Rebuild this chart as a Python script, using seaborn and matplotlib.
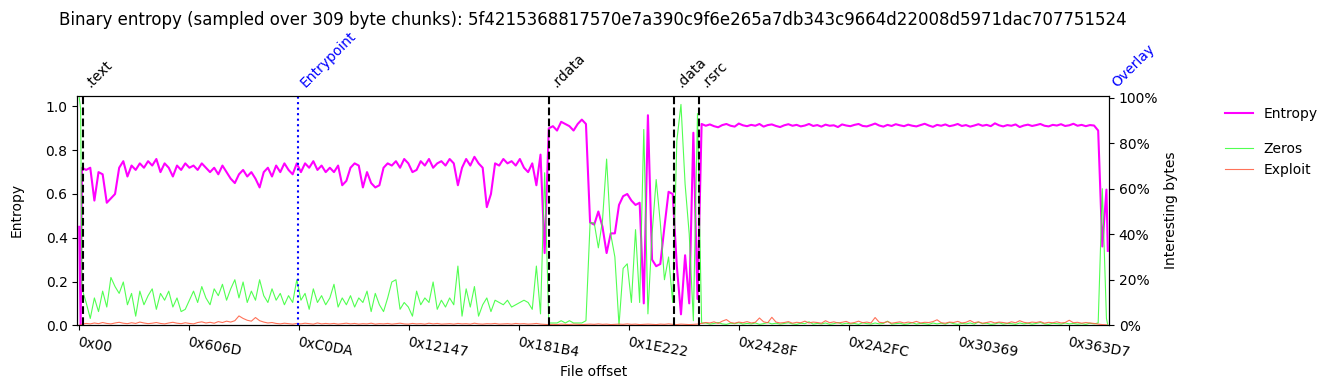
import matplotlib
matplotlib.use("Agg")
import matplotlib.pyplot as plt
import matplotlib.transforms as mtransforms
from matplotlib.lines import Line2D
from matplotlib.ticker import PercentFormatter
import numpy as np
import seaborn as sns

CHUNK = 309
TITLE = ("Binary entropy (sampled over 309 byte chunks): "
         "5f4215368817570e7a390c9f6e265a7db343c9664d22008d5971dac707751524")

# chunk indices of the samples
chunk_idx = [0, 1] + list(range(2, 747, 3)) + [747]

entropy = [
    0.45, 0.0,
    0.72, 0.71, 0.72, 0.57, 0.70, 0.69, 0.56, 0.58, 0.60, 0.72,
    0.75, 0.68, 0.73, 0.71, 0.74, 0.72, 0.75, 0.73, 0.76, 0.70,
    0.74, 0.72, 0.68, 0.73, 0.71, 0.74, 0.72, 0.73, 0.71, 0.74,
    0.72, 0.70, 0.72, 0.69, 0.73, 0.70, 0.67, 0.65, 0.69, 0.71,
    0.68, 0.70, 0.67, 0.63, 0.70, 0.72, 0.68, 0.73, 0.70, 0.74,
    0.71, 0.69, 0.74, 0.70, 0.74, 0.72, 0.75, 0.71, 0.73, 0.70,
    0.72, 0.70, 0.73, 0.64, 0.66, 0.72, 0.74, 0.73, 0.63, 0.70,
    0.65, 0.63, 0.64, 0.72, 0.74, 0.73, 0.75, 0.72, 0.76, 0.74,
    0.70, 0.71, 0.75, 0.73, 0.76, 0.72, 0.74, 0.75, 0.73, 0.76,
    0.74, 0.64, 0.72, 0.76, 0.73, 0.77, 0.74, 0.72, 0.54, 0.60,
    0.74, 0.73, 0.76, 0.74, 0.75, 0.73, 0.76, 0.72, 0.70, 0.74,
    0.64, 0.78, 0.33, 0.90,
    0.91, 0.89, 0.93, 0.92, 0.91, 0.89, 0.92, 0.94, 0.92, 0.47,
    0.46, 0.52, 0.45, 0.33, 0.42, 0.42, 0.55, 0.59, 0.60, 0.57,
    0.55, 0.56, 0.10, 0.96, 0.30, 0.27, 0.28, 0.45, 0.61, 0.60,
    0.27, 0.05, 0.32, 0.10, 0.88, 0.12, 0.92,
    0.912, 0.918, 0.910, 0.905, 0.915, 0.920, 0.912, 0.908, 0.922, 0.914,
    0.910, 0.916, 0.912, 0.920, 0.908, 0.915, 0.918, 0.911, 0.906, 0.914,
    0.919, 0.912, 0.916, 0.909, 0.913, 0.920, 0.911, 0.915, 0.908, 0.917,
    0.912, 0.914, 0.906, 0.918, 0.913, 0.910, 0.916, 0.920, 0.911, 0.909,
    0.915, 0.922, 0.913, 0.908, 0.916, 0.911, 0.919, 0.914, 0.910, 0.917,
    0.912, 0.909, 0.915, 0.921, 0.913, 0.907, 0.916, 0.912, 0.918, 0.910,
    0.914, 0.920, 0.911, 0.915, 0.908, 0.913, 0.919, 0.912, 0.916, 0.910,
    0.923, 0.914, 0.909, 0.915, 0.912, 0.918, 0.906, 0.913, 0.917, 0.911,
    0.915, 0.920, 0.912, 0.909, 0.916, 0.913, 0.919, 0.911, 0.914, 0.921,
    0.912, 0.916, 0.910, 0.915, 0.913,
    0.89, 0.36, 0.62, 0.34,
]

zeros = [
    1.0, 0.95,
    0.16, 0.10, 0.03, 0.12, 0.06, 0.15, 0.08, 0.21, 0.17, 0.14,
    0.19, 0.09, 0.14, 0.04, 0.15, 0.09, 0.13, 0.16, 0.07, 0.14,
    0.11, 0.15, 0.08, 0.12, 0.06, 0.07, 0.11, 0.15, 0.10, 0.17,
    0.12, 0.09, 0.16, 0.13, 0.18, 0.11, 0.16, 0.20, 0.12, 0.19,
    0.10, 0.15, 0.11, 0.20, 0.13, 0.10, 0.16, 0.11, 0.14, 0.09,
    0.13, 0.10, 0.20, 0.11, 0.14, 0.07, 0.16, 0.10, 0.13, 0.09,
    0.12, 0.18, 0.08, 0.12, 0.09, 0.13, 0.08, 0.12, 0.10, 0.15,
    0.06, 0.14, 0.09, 0.06, 0.12, 0.19, 0.20, 0.07, 0.10, 0.08,
    0.04, 0.15, 0.09, 0.12, 0.10, 0.19, 0.07, 0.11, 0.08, 0.12,
    0.09, 0.26, 0.04, 0.16, 0.08, 0.17, 0.04, 0.09, 0.12, 0.06,
    0.11, 0.10, 0.09, 0.11, 0.08, 0.09, 0.10, 0.11, 0.10, 0.07,
    0.26, 0.05, 0.67, 0.01,
    0.01, 0.01, 0.02, 0.01, 0.02, 0.01, 0.01, 0.01, 0.02, 0.45,
    0.45, 0.34, 0.46, 0.73, 0.40, 0.30, 0.00, 0.25, 0.27, 0.10,
    0.42, 0.10, 0.86, 0.05, 0.40, 0.64, 0.45, 0.20, 0.30, 0.10,
    0.81, 0.97, 0.62, 0.40, 0.02, 0.93, 0.01,
    0.010, 0.005, 0.008, 0.012, 0.006, 0.004, 0.009, 0.007, 0.011, 0.005,
    0.008, 0.006, 0.010, 0.004, 0.007, 0.012, 0.006, 0.009, 0.005, 0.008,
    0.011, 0.006, 0.004, 0.009, 0.007, 0.015, 0.005, 0.008, 0.006, 0.010,
    0.004, 0.007, 0.012, 0.005, 0.009, 0.006, 0.008, 0.004, 0.011, 0.007,
    0.005, 0.010, 0.006, 0.008, 0.018, 0.005, 0.007, 0.009, 0.004, 0.006,
    0.011, 0.005, 0.008, 0.007, 0.004, 0.010, 0.006, 0.009, 0.005, 0.012,
    0.007, 0.004, 0.008, 0.006, 0.010, 0.005, 0.014, 0.007, 0.009, 0.004,
    0.006, 0.011, 0.005, 0.008, 0.007, 0.004, 0.010, 0.006, 0.009, 0.005,
    0.008, 0.012, 0.006, 0.004, 0.009, 0.007, 0.005, 0.010, 0.006, 0.008,
    0.005, 0.007, 0.004, 0.009, 0.006,
    0.01, 0.60, 0.03, 0.0,
]

exploit = [
    0.0, 0.0,
    0.005, 0.008, 0.006, 0.010, 0.007, 0.012, 0.008, 0.006, 0.010, 0.013,
    0.009, 0.007, 0.011, 0.008, 0.014, 0.010, 0.007, 0.009, 0.012, 0.008,
    0.006, 0.010, 0.013, 0.009, 0.007, 0.011, 0.008, 0.006, 0.012, 0.015,
    0.010, 0.013, 0.009, 0.016, 0.012, 0.018, 0.014, 0.020, 0.041, 0.030,
    0.022, 0.018, 0.034, 0.020, 0.014, 0.010, 0.012, 0.008, 0.006, 0.009,
    0.007, 0.005, 0.008, 0.006, 0.009, 0.007, 0.005, 0.010, 0.006, 0.008,
    0.006, 0.008, 0.005, 0.007, 0.009, 0.006, 0.008, 0.005, 0.007, 0.006,
    0.009, 0.005, 0.007, 0.006, 0.008, 0.005, 0.007, 0.009, 0.006, 0.005,
    0.008, 0.006, 0.007, 0.005, 0.009, 0.006, 0.008, 0.005, 0.006, 0.007,
    0.005, 0.008, 0.006, 0.007, 0.005, 0.009, 0.006, 0.005, 0.007, 0.006,
    0.008, 0.005, 0.006, 0.007, 0.005, 0.008, 0.006, 0.007, 0.005, 0.006,
    0.008, 0.005, 0.004, 0.003,
    0.004, 0.003, 0.005, 0.004, 0.003, 0.005, 0.004, 0.003, 0.004, 0.005,
    0.004, 0.006, 0.004, 0.005, 0.003, 0.004, 0.005, 0.004, 0.006, 0.004,
    0.005, 0.003, 0.004, 0.005, 0.004, 0.003, 0.005, 0.004, 0.006, 0.004,
    0.003, 0.005, 0.004, 0.003, 0.004, 0.005, 0.008,
    0.012, 0.010, 0.015, 0.008, 0.018, 0.025, 0.012, 0.009, 0.014, 0.011,
    0.016, 0.010, 0.013, 0.032, 0.015, 0.011, 0.035, 0.014, 0.010, 0.012,
    0.016, 0.009, 0.013, 0.011, 0.018, 0.010, 0.014, 0.012, 0.009, 0.020,
    0.011, 0.015, 0.010, 0.013, 0.017, 0.009, 0.012, 0.018, 0.011, 0.014,
    0.010, 0.034, 0.013, 0.011, 0.016, 0.009, 0.012, 0.015, 0.010, 0.014,
    0.011, 0.017, 0.010, 0.013, 0.012, 0.016, 0.024, 0.011, 0.009, 0.014,
    0.012, 0.017, 0.010, 0.013, 0.021, 0.011, 0.015, 0.009, 0.012, 0.016,
    0.010, 0.014, 0.012, 0.009, 0.015, 0.011, 0.020, 0.013, 0.010, 0.014,
    0.012, 0.016, 0.009, 0.013, 0.011, 0.015, 0.010, 0.012, 0.022, 0.011,
    0.013, 0.009, 0.012, 0.010, 0.008,
    0.005, 0.003, 0.002, 0.0,
]

tick_offsets = [0x0, 0x606D, 0xC0DA, 0x12147, 0x181B4, 0x1E222,
                0x2428F, 0x2A2FC, 0x30369, 0x363D7]

section_names = [".text", "Entrypoint", ".rdata", ".data", ".rsrc", "Overlay"]
section_offsets = [780, 49100, 105430, 133490, 139090, 231200]
section_colors = ["black", "blue", "black", "black", "black", "blue"]
section_styles = ["--", ":", "--", "--", "--", ":"]

offsets = [c * CHUNK for c in chunk_idx]

fig = plt.figure(figsize=(13.33, 3.9), dpi=100)
ax = fig.add_axes([0.058, 0.166, 0.774, 0.589])
ax2 = ax.twinx()

sns.lineplot(x=offsets, y=entropy, ax=ax, color="#ff00ff", linewidth=1.5,
             estimator=None, sort=False, legend=False)
sns.lineplot(x=offsets, y=zeros, ax=ax2, color="#33ff33", alpha=0.85,
             linewidth=0.8, estimator=None, sort=False, legend=False)
sns.lineplot(x=offsets, y=exploit, ax=ax2, color="#ff6347", alpha=0.9,
             linewidth=0.8, estimator=None, sort=False, legend=False)

xmin, xmax = -1.4 * CHUNK, 747.9 * CHUNK
ax.set_xlim(xmin, xmax)
ax.set_ylim(0, 1.05)
ax2.set_ylim(0, 1.009)
ax2.yaxis.set_major_formatter(PercentFormatter(1.0, decimals=0))
ax2.set_yticks([0, 0.2, 0.4, 0.6, 0.8, 1.0])

ax.set_xticks(tick_offsets)
ax.set_xticklabels(["0x%02X" % v for v in tick_offsets], rotation=-10,
                   ha="left", va="top", rotation_mode="anchor")

trans = mtransforms.blended_transform_factory(ax2.transData, ax2.transAxes)
for name, off, col, ls in zip(section_names, section_offsets,
                              section_colors, section_styles):
    if off < xmax:
        ax2.axvline(off, color=col, linestyle=ls, linewidth=1.5)
    ax2.text(off + 2250, 1.025, name, transform=trans, rotation=45,
             ha="left", va="bottom", rotation_mode="anchor", color=col,
             fontsize=10, clip_on=False)

ax.set_xlabel("File offset")
ax.set_ylabel("Entropy", labelpad=16)
ax2.set_ylabel("Interesting bytes", labelpad=4)
ax.set_title(TITLE, fontsize=12, pad=51)

h1 = [Line2D([], [], color="#ff00ff", linewidth=1.5)]
h2 = [Line2D([], [], color="#33ff33", alpha=0.85, linewidth=0.8),
      Line2D([], [], color="#ff6347", alpha=0.9, linewidth=0.8)]
leg1 = fig.legend(h1, ["Entropy"], loc="upper left", frameon=False,
                  bbox_to_anchor=(0.9095, 0.758))
leg2 = fig.legend(h2, ["Zeros", "Exploit"], loc="upper left", frameon=False,
                  bbox_to_anchor=(0.9095, 0.668))

fig.savefig("out.png", dpi=100)
